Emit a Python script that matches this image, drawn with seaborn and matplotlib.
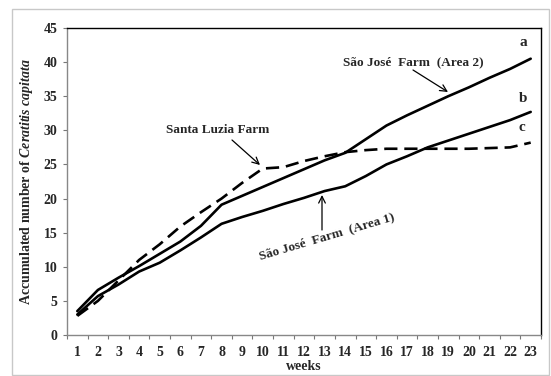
import matplotlib
matplotlib.use("Agg")
import matplotlib.pyplot as plt
import seaborn as sns
import pandas as pd
from matplotlib.patches import Rectangle

weeks = list(range(1, 24))
sao_jose_area2 = [3.5, 6.6, 8.4, 10.1, 11.9, 13.7, 16.0, 19.1, 20.4, 21.7, 23.0, 24.3, 25.6, 26.7,
                  28.7, 30.7, 32.2, 33.6, 35.0, 36.3, 37.7, 39.0, 40.5]
sao_jose_area1 = [3.0, 5.7, 7.4, 9.3, 10.6, 12.4, 14.3, 16.3, 17.3, 18.2, 19.2, 20.1, 21.1, 21.8,
                  23.3, 25.0, 26.2, 27.5, 28.5, 29.5, 30.5, 31.5, 32.7]
santa_luzia = [2.8, 5.0, 8.0, 11.0, 13.3, 15.9, 18.0, 20.0, 22.3, 24.4, 24.6, 25.5, 26.2, 26.8,
               27.1, 27.3, 27.3, 27.3, 27.3, 27.3, 27.4, 27.5, 28.2]
y_ticks = list(range(0, 50, 5))

sns.set_theme(style="white")
plt.rcParams['font.family'] = ['Liberation Serif', 'DejaVu Serif']
plt.rcParams['font.weight'] = 'bold'
plt.rcParams['mathtext.fontset'] = 'custom'
plt.rcParams['mathtext.it'] = 'Liberation Serif:italic:bold'
plt.rcParams['mathtext.rm'] = 'Liberation Serif:bold'

W, H = 551, 376
L, R, T, B = 67, 541, 28, 335
fig = plt.figure(figsize=(W / 100, H / 100), dpi=100)
fig.patches.append(Rectangle((12 / W, 1 - 375 / H), 537 / W, 366 / H, transform=fig.transFigure,
                             fill=False, edgecolor='#c8c8c8', linewidth=1.0))
ax = fig.add_axes([L / W, 1 - B / H, (R - L) / W, (B - T) / H])

df = pd.DataFrame({'week': weeks, 'a': sao_jose_area2, 'b': sao_jose_area1, 'c': santa_luzia})
sns.lineplot(data=df, x='week', y='a', ax=ax, color='black', lw=1.9)
sns.lineplot(data=df, x='week', y='b', ax=ax, color='black', lw=1.9)
sns.lineplot(data=df, x='week', y='c', ax=ax, color='black', lw=1.9)
ax.lines[-1].set_dashes((5, 2.6))

ax.set_xlim(0.5, 23.5)
ax.set_ylim(0, 45)
ax.set_yticks(y_ticks)
ax.set_xticks(weeks)
ax.set_xticks([w + 0.5 for w in range(0, 24)], minor=True)
ax.tick_params(axis='x', which='major', length=0, pad=8, labelsize=10)
ax.tick_params(axis='x', which='minor', length=3, width=0.8, color='#777777', bottom=True)
ax.tick_params(axis='y', length=3, width=0.8, color='#777777', left=True, labelsize=10, pad=4)
for lab in ax.get_xticklabels() + ax.get_yticklabels():
    lab.set_fontweight('bold')
for s in ax.spines.values():
    s.set_color('black')
    s.set_linewidth(1.0)
ax.spines['left'].set_color('#888888')
ax.spines['bottom'].set_color('#888888')

ax.set_xlabel('weeks', fontsize=10, fontweight='bold', va='center')
ax.set_ylabel(r'Accumulated number of $\mathit{Ceratitis\ capitata}$', fontsize=10,
              fontweight='bold')
ax.xaxis.set_label_coords(0.5, (B - 367) / (B - T))
ax.yaxis.set_label_coords((35 - L) / (R - L), 0.5)


def dx(px):
    return (px - L) / ((R - L) / 23) + 0.5


def dy(py):
    return (B - py) / ((B - T) / 45)


fs = 9.5
ax.text(dx(413), dy(62), 'São José  Farm  (Area 2)', fontsize=fs, fontweight='bold',
        ha='center', va='center')
ax.text(dx(218), dy(130), 'Santa Luzia Farm', fontsize=fs, fontweight='bold',
        ha='center', va='center')
ax.text(dx(327), dy(237), 'São José  Farm  (Area 1)', fontsize=fs, fontweight='bold',
        ha='center', va='center', rotation=16.5, rotation_mode='anchor')

ax.text(dx(523), dy(43), 'a', fontsize=11, fontweight='bold', ha='center', va='center')
ax.text(dx(523), dy(98), 'b', fontsize=11, fontweight='bold', ha='center', va='center')
ax.text(dx(522), dy(128), 'c', fontsize=11, fontweight='bold', ha='center', va='center')

arrow = dict(arrowstyle='->', color='black', lw=0.9, shrinkA=0, shrinkB=0)
ax.annotate('', xy=(dx(448), dy(92)), xytext=(dx(413), dy(70)), arrowprops=arrow)
ax.annotate('', xy=(dx(260), dy(165)), xytext=(dx(232), dy(140)), arrowprops=arrow)
ax.annotate('', xy=(dx(322), dy(195)), xytext=(dx(322), dy(230)), arrowprops=arrow)

fig.savefig('out.png', dpi=100)
